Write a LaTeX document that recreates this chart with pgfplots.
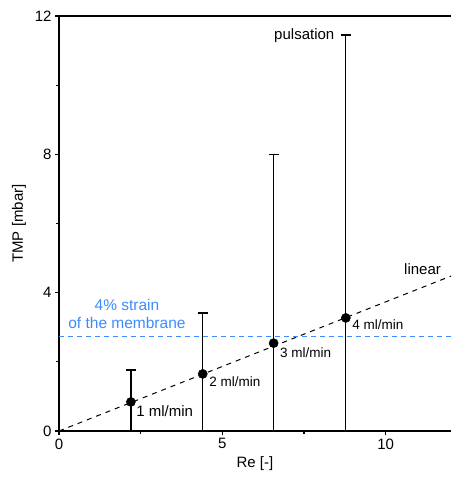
\documentclass[border=0pt]{standalone}
\usepackage{pgfplots}
\pgfplotsset{compat=1.18}
\usepackage{fontspec}
\setmainfont{Liberation Sans}
\definecolor{strainblue}{RGB}{60,140,255}

\begin{document}
\begin{tikzpicture}
\begin{axis}[
name=ax,
scale only axis,
width=392pt, height=415pt,
xmin=0, xmax=12, ymin=0, ymax=12,
xtick={0,5,10}, ytick={0,4,8,12},
minor xtick={2.5,7.5}, minor ytick={2,6,10},
axis x line*=box, axis y line*=left,
xtick pos=bottom, ytick pos=left,
tick align=outside,
major tick length=4pt, minor tick length=2.5pt,
axis line style={line width=1.4pt},
every tick/.style={black, line width=1.2pt},
/pgf/number format/assume math mode=true,
tick label style={font=\fontsize{15}{17}\selectfont},
label style={font=\fontsize{15}{17}\selectfont},
xlabel={Re [-]}, ylabel={TMP [mbar]},
xlabel style={yshift=-1pt},
ylabel style={yshift=2pt},
clip=false,
]
% linear fit
\addplot[black, line width=1pt, dash pattern=on 5pt off 5pt] coordinates {(0,0) (12,4.48)};
% 4% strain
\addplot[strainblue, line width=1pt, dash pattern=on 5pt off 4pt] coordinates {(0,2.72) (12,2.72)};
% points with error bars
\addplot[black, only marks, mark=*, mark size=4.6pt,
  error bars/.cd, y dir=both, y explicit,
  error bar style={line width=1.3pt},
  error mark options={rotate=90, mark size=5pt, line width=1.3pt}]
  coordinates {
  (2.20,0.84) -= (0,0.84) += (0,0.92)
  (4.40,1.65) -= (0,1.65) += (0,1.76)
  (6.57,2.54) -= (0,2.54) += (0,5.46)
  (8.78,3.27) -= (0,3.27) += (0,8.18)
  };
\node[anchor=west, font=\fontsize{15}{17}\selectfont] at (axis cs:2.20,0.84) [xshift=2pt, yshift=-9pt] {1 ml/min};
\node[anchor=west, font=\fontsize{13.5}{15}\selectfont] at (axis cs:4.40,1.65) [xshift=3pt, yshift=-8pt] {2 ml/min};
\node[anchor=west, font=\fontsize{13.5}{15}\selectfont] at (axis cs:6.57,2.54) [xshift=3pt, yshift=-10pt] {3 ml/min};
\node[anchor=west, font=\fontsize{13.5}{15}\selectfont] at (axis cs:8.78,3.27) [xshift=3pt, yshift=-7pt] {4 ml/min};
\node[anchor=east, font=\fontsize{15}{17}\selectfont] at (axis cs:8.78,11.45) [xshift=-8pt, yshift=-1pt] {pulsation};
\node[font=\fontsize{15}{17}\selectfont] at (axis cs:11.13,4.68) {linear};
\node[align=center, text=strainblue, font=\fontsize{15.5}{18}\selectfont] at (axis cs:2.08,3.38) {4\% strain\\of the membrane};
\end{axis}
\path (ax.south west) ++(-59pt,-52pt) coordinate (bl);
\path (ax.north east) ++(0pt,16pt) coordinate (tr);
\path (bl) rectangle (tr);
\end{tikzpicture}
\end{document}
